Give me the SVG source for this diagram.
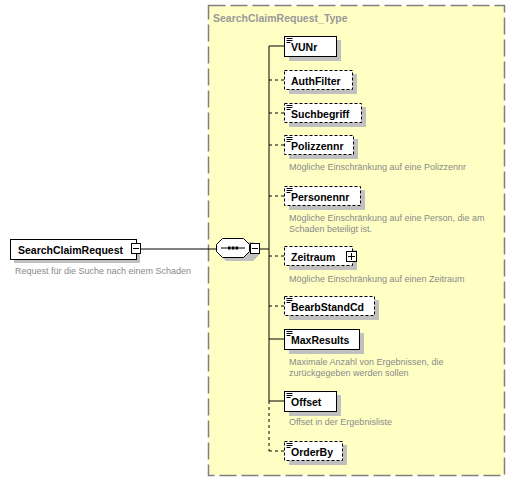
<svg xmlns="http://www.w3.org/2000/svg" width="515" height="482" viewBox="0 0 515 482">
<defs>
<style>
.bg{fill:#ffffff}
.type{fill:#ffffc4;stroke:#808080;stroke-width:1.5;stroke-dasharray:17 5}
.shadow{fill:#c0c0c0}
.box{fill:#ffffff;stroke:#000000;stroke-width:1}
.opt{fill:#ffffff;stroke:#000000;stroke-width:1;stroke-dasharray:3 2}
.name{font-family:"Liberation Sans",Arial,sans-serif;font-weight:bold;font-size:10.5px;fill:#000000}
.title{font-family:"Liberation Sans",Arial,sans-serif;font-weight:bold;font-size:10.5px;fill:#999999}
.desc{font-family:"Liberation Sans",Arial,sans-serif;font-size:9px;fill:#8a8a8a}
.line{stroke:#000000;stroke-width:1;fill:none}
.dline{stroke:#000000;stroke-width:1;fill:none;stroke-dasharray:3 3}
.icon{stroke:#000000;stroke-width:1}
.btn{fill:#ffffff;stroke:#000000;stroke-width:1}
</style>
<g id="simpleIcon"><path class="icon" d="M2.5 2.5h6M2.5 4.5h6M2.5 6.5h4"/></g>
</defs>
<rect class="bg" x="0" y="0" width="515" height="482"/>
<g id="SearchClaimRequest_Type">
<rect class="type" x="208.5" y="5.5" width="296" height="470"/>
<text class="title" x="213" y="22">SearchClaimRequest_Type</text>
</g>
<g id="connectors">
<path class="line" d="M140 249H216"/>
<path class="line" d="M260 249H269"/>
<path class="line" d="M269 46V401"/>
<path class="dline" d="M269 401V451"/>
<path class="line" d="M269 46H284"/>
<path class="dline" d="M269 80H284"/>
<path class="dline" d="M269 113H284"/>
<path class="dline" d="M269 145H284"/>
<path class="dline" d="M269 196H284"/>
<path class="dline" d="M269 256H284"/>
<path class="dline" d="M269 306H284"/>
<path class="line" d="M269 339H284"/>
<path class="line" d="M269 401H284"/>
<path class="dline" d="M269 451H284"/>
</g>
<g id="SearchClaimRequest">
<rect class="shadow" x="14" y="243" width="126" height="20"/>
<rect class="box" x="10.5" y="239.5" width="126" height="20"/>
<text class="name" x="18" y="253.5">SearchClaimRequest</text>
<rect class="btn" x="131.5" y="243.5" width="9" height="10"/>
<path class="icon" d="M133 248.5h6"/>
<text class="desc" x="15" y="274">Request für die Suche nach einem Schaden</text>
</g>
<g id="sequence">
<path class="shadow" d="M226 242H253L259 248V255L253 261H226L220 255V248Z"/>
<path fill="#ffffff" stroke="#000000" d="M222.5 238.5H243.5L249.5 244.5V251.5L243.5 257.5H222.5L216.5 251.5V244.5Z"/>
<path class="icon" d="M221 248h24"/>
<rect x="228" y="246.5" width="2.5" height="3" fill="#000"/>
<rect x="231.8" y="246.5" width="2.5" height="3" fill="#000"/>
<rect x="235.6" y="246.5" width="2.5" height="3" fill="#000"/>
<rect class="btn" x="250.5" y="243.5" width="9" height="10"/>
<path class="icon" d="M252 248.5h6"/>
</g>
<g id="VUNr">
<rect class="shadow" x="289" y="40" width="52" height="21"/>
<rect class="box" x="284.5" y="36.5" width="52" height="20"/>
<use href="#simpleIcon" x="284" y="36"/>
<text class="name" x="291" y="51">VUNr</text>
</g>
<g id="AuthFilter">
<rect class="shadow" x="289" y="74" width="68" height="20"/>
<rect class="opt" x="284.5" y="70.5" width="68" height="19"/>
<text class="name" x="291" y="84.5">AuthFilter</text>
</g>
<g id="Suchbegriff">
<rect class="shadow" x="289" y="107" width="77" height="20"/>
<rect class="opt" x="284.5" y="103.5" width="77" height="19"/>
<use href="#simpleIcon" x="284" y="103"/>
<text class="name" x="291" y="117.5">Suchbegriff</text>
</g>
<g id="Polizzennr">
<rect class="shadow" x="289" y="139" width="69" height="20"/>
<rect class="opt" x="284.5" y="135.5" width="69" height="19"/>
<use href="#simpleIcon" x="284" y="135"/>
<text class="name" x="291" y="149.5">Polizzennr</text>
<text class="desc" x="289" y="170">Mögliche Einschränkung auf eine Polizzennr</text>
</g>
<g id="Personennr">
<rect class="shadow" x="289" y="190" width="76" height="20"/>
<rect class="opt" x="284.5" y="186.5" width="76" height="19"/>
<use href="#simpleIcon" x="284" y="186"/>
<text class="name" x="291" y="200.5">Personennr</text>
<text class="desc" x="289" y="221">Mögliche Einschränkung auf eine Person, die am</text>
<text class="desc" x="289" y="232">Schaden beteiligt ist.</text>
</g>
<g id="Zeitraum">
<rect class="shadow" x="289" y="250" width="68" height="20"/>
<rect class="opt" x="284.5" y="246.5" width="68" height="19"/>
<text class="name" x="291" y="260.5">Zeitraum</text>
<rect class="btn" x="346.5" y="251.5" width="10" height="10"/>
<path class="icon" d="M348 256.5h7M351.5 253v7"/>
<text class="desc" x="289" y="282">Mögliche Einschränkung auf einen Zeitraum</text>
</g>
<g id="BearbStandCd">
<rect class="shadow" x="289" y="300" width="90" height="20"/>
<rect class="opt" x="284.5" y="296.5" width="90" height="19"/>
<use href="#simpleIcon" x="284" y="296"/>
<text class="name" x="291" y="310.5">BearbStandCd</text>
</g>
<g id="MaxResults">
<rect class="shadow" x="289" y="333" width="75" height="21"/>
<rect class="box" x="284.5" y="329.5" width="75" height="20"/>
<use href="#simpleIcon" x="284" y="329"/>
<text class="name" x="291" y="344">MaxResults</text>
<text class="desc" x="289" y="365">Maximale Anzahl von Ergebnissen, die</text>
<text class="desc" x="289" y="376">zurückgegeben werden sollen</text>
</g>
<g id="Offset">
<rect class="shadow" x="289" y="395" width="52" height="21"/>
<rect class="box" x="284.5" y="391.5" width="52" height="20"/>
<use href="#simpleIcon" x="284" y="391"/>
<text class="name" x="291" y="406">Offset</text>
<text class="desc" x="289" y="425">Offset in der Ergebnisliste</text>
</g>
<g id="OrderBy">
<rect class="shadow" x="289" y="445" width="58" height="20"/>
<rect class="opt" x="284.5" y="441.5" width="58" height="19"/>
<use href="#simpleIcon" x="284" y="441"/>
<text class="name" x="291" y="455.5">OrderBy</text>
</g>
</svg>
